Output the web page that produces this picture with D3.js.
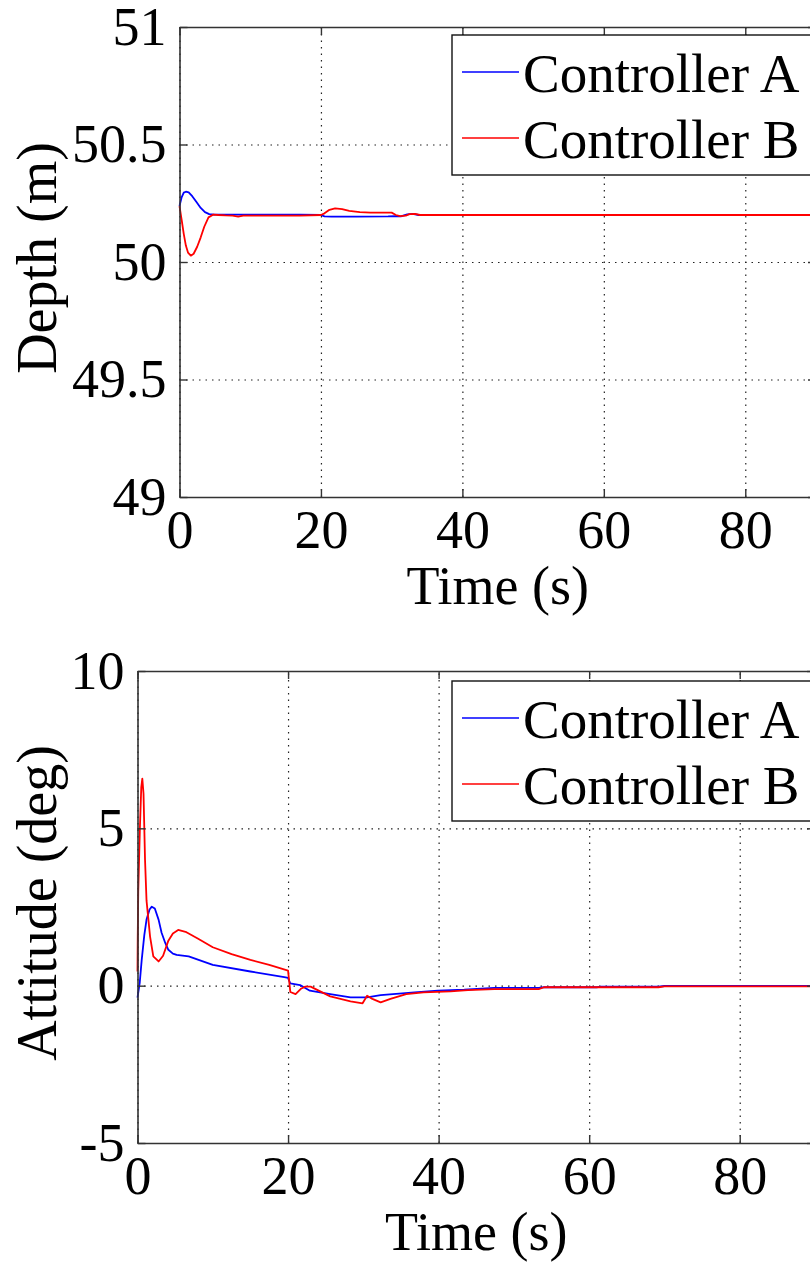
<!DOCTYPE html>
<html>
<head>
<meta charset="utf-8">
<script src="https://cdn.jsdelivr.net/npm/d3@7/dist/d3.min.js"></script>
<style>
  body { margin: 0; overflow: hidden; background: #fff; }
  svg { display: block; font-family: "Liberation Serif", "Times New Roman", serif; }
</style>
</head>
<body>
<svg id="chart" width="810" height="1262"></svg>
<script>
// Depth response (top panel)
const depthTimeA = [0, 0.3, 0.6, 0.9, 1.3, 1.8, 2.4, 3.0, 3.6, 4.2, 5, 6, 8, 10, 17, 20, 20.5, 21.5, 25, 29.5, 30.5, 31.3, 32.2, 33, 33.8, 34.5, 90];
const depthA     = [50.238, 50.275, 50.295, 50.299, 50.296, 50.28, 50.255, 50.23, 50.212, 50.204, 50.202, 50.202, 50.202, 50.202, 50.202, 50.2, 50.194, 50.193, 50.193, 50.194, 50.195, 50.194, 50.203, 50.205, 50.2, 50.2, 50.2];

const depthTimeB = [0, 0.3, 0.6, 0.9, 1.2, 1.6, 2.0, 2.5, 3.0, 3.5, 4.1, 4.8, 5.5, 6.5, 7.5, 8.3, 9.0, 10, 17, 20, 20.5, 21.2, 22, 23, 24, 25.5, 27, 30, 30.6, 31.2, 32, 32.5, 33.3, 34, 90];
const depthB     = [50.238, 50.18, 50.12, 50.07, 50.04, 50.027, 50.035, 50.065, 50.105, 50.15, 50.19, 50.202, 50.2, 50.198, 50.197, 50.193, 50.197, 50.197, 50.197, 50.2, 50.207, 50.222, 50.228, 50.225, 50.218, 50.212, 50.21, 50.21, 50.2, 50.195, 50.197, 50.204, 50.205, 50.2, 50.2];

// Attitude response (bottom panel)
const attTimeA = [0, 0.3, 0.56, 0.9, 1.2, 1.6, 1.9, 2.3, 2.8, 3.2, 3.7, 4.1, 4.7, 5.2, 6.8, 10, 15, 19.5, 20, 20.3, 21.6, 22.9, 25.6, 28.3, 30.5, 32.3, 36.8, 39.9, 43.4, 47.4, 53.3, 54, 61, 61.6, 69.2, 70, 90];
const attA     = [-0.38, 0.1, 0.82, 1.6, 2.1, 2.42, 2.51, 2.45, 2.1, 1.68, 1.35, 1.14, 1.02, 0.98, 0.93, 0.66, 0.45, 0.27, 0.25, 0.07, 0.02, -0.16, -0.27, -0.37, -0.37, -0.3, -0.21, -0.16, -0.13, -0.07, -0.07, -0.05, -0.05, -0.03, -0.03, -0.01, -0.01];

const attTimeB = [0, 0.03, 0.1, 0.33, 0.5, 0.64, 0.8, 1.0, 1.2, 1.67, 2.1, 2.8, 3.4, 4.1, 4.7, 5.4, 6.5, 8, 10, 12.5, 15, 17.5, 20, 20.3, 21, 21.7, 22.3, 23, 25.6, 28.3, 29.9, 30.5, 31.2, 32.3, 33.6, 35.7, 38, 41.6, 43.9, 47.4, 53.3, 54, 69.2, 70, 90];
const attB     = [0.45, 1.5, 3.0, 5.1, 6.3, 6.58, 6.1, 4.0, 2.7, 1.56, 0.93, 0.77, 0.95, 1.43, 1.66, 1.77, 1.7, 1.5, 1.22, 1.0, 0.82, 0.66, 0.48, -0.2, -0.27, -0.1, -0.03, -0.03, -0.34, -0.5, -0.56, -0.32, -0.42, -0.53, -0.42, -0.27, -0.21, -0.18, -0.14, -0.11, -0.11, -0.05, -0.05, -0.02, -0.02];

// Axes ticks and labels
const timeTicks = [0, 20, 40, 60, 80];
const depthTicks = [49, 49.5, 50, 50.5, 51];
const attTicks = [-5, 0, 5, 10];
const legendNames = ["Controller A", "Controller B"];
const colours = ["#0000ff", "#ff0000"];

const FONT = 54;
const svg = d3.select("#chart");

function drawPanel(cfg) {
  const x = d3.scaleLinear().domain([0, 90]).range([cfg.left, cfg.right]);
  const y = d3.scaleLinear().domain(cfg.yDomain).range([cfg.bottom, cfg.top]);
  const w = cfg.right - cfg.left, h = cfg.bottom - cfg.top;
  const g = svg.append("g");

  // dotted grid
  g.append("g")
    .attr("transform", `translate(0,${cfg.bottom})`)
    .call(d3.axisBottom(x).tickValues(timeTicks).tickSize(-h).tickFormat(""))
    .call(a => a.select(".domain").remove());
  g.append("g")
    .attr("transform", `translate(${cfg.left},0)`)
    .call(d3.axisLeft(y).tickValues(cfg.yTicks).tickSize(-w).tickFormat(""))
    .call(a => a.select(".domain").remove());
  g.selectAll(".tick line")
    .attr("stroke", "#222")
    .attr("stroke-width", 1.2)
    .attr("stroke-dasharray", "1.5,5");

  // data lines
  const line = d3.line().x(d => x(d[0])).y(d => y(d[1]));
  cfg.series.forEach((s, i) => {
    g.append("path")
      .datum(d3.zip(s.t, s.v))
      .attr("fill", "none")
      .attr("stroke", colours[i])
      .attr("stroke-width", 1.8)
      .attr("stroke-linejoin", "round")
      .attr("d", line);
  });

  // box axes with inward ticks
  const axes = [
    [d3.axisBottom(x).tickValues(timeTicks), `translate(0,${cfg.bottom})`, true],
    [d3.axisTop(x).tickValues(timeTicks), `translate(0,${cfg.top})`, false],
    [d3.axisLeft(y).tickValues(cfg.yTicks), `translate(${cfg.left},0)`, true],
    [d3.axisRight(y).tickValues(cfg.yTicks), `translate(${cfg.right},0)`, false]
  ];
  axes.forEach(([ax, tr, labelled]) => {
    const a = g.append("g").attr("transform", tr)
      .call(ax.tickSize(-8).tickSizeOuter(0).tickPadding(labelled ? 13 : 0).tickFormat(labelled ? d => String(d) : ""));
    a.select(".domain").attr("stroke", "#333").attr("stroke-width", 1.6);
    a.selectAll(".tick line").attr("stroke", "#333").attr("stroke-width", 1.4);
    a.selectAll(".tick text")
      .attr("font-size", FONT)
      .attr("font-family", "Liberation Serif")
      .attr("fill", "#000");
  });

  // axis titles
  g.append("text")
    .attr("x", (cfg.left + cfg.right) / 2)
    .attr("y", cfg.bottom + 107)
    .attr("text-anchor", "middle")
    .attr("font-size", FONT)
    .text("Time (s)");
  g.append("text")
    .attr("transform", `translate(56,${(cfg.top + cfg.bottom) / 2 - 4}) rotate(-90)`)
    .attr("text-anchor", "middle")
    .attr("font-size", 56)
    .text(cfg.yLabel);

  // legend
  const lx = 452, ly = cfg.top + cfg.legendOffset;
  g.append("rect")
    .attr("x", lx).attr("y", ly)
    .attr("width", cfg.right - 4 - lx).attr("height", 140)
    .attr("fill", "#fff").attr("stroke", "#111").attr("stroke-width", 1.4);
  legendNames.forEach((name, i) => {
    const ry = ly + 37 + i * 66;
    g.append("line")
      .attr("x1", lx + 10).attr("x2", lx + 67)
      .attr("y1", ry).attr("y2", ry)
      .attr("stroke", colours[i]).attr("stroke-width", 1.6);
    g.append("text")
      .attr("x", lx + 71).attr("y", ry)
      .attr("dy", "0.36em")
      .attr("font-size", 55)
      .text(name);
  });
}

drawPanel({
  left: 179.5, right: 816, top: 27, bottom: 497,
  yDomain: [49, 51], yTicks: depthTicks, yLabel: "Depth (m)", legendOffset: 8,
  series: [{ t: depthTimeA, v: depthA }, { t: depthTimeB, v: depthB }]
});

drawPanel({
  left: 137.5, right: 815, top: 671, bottom: 1143,
  yDomain: [-5, 10], yTicks: attTicks, yLabel: "Attitude (deg)", legendOffset: 10,
  series: [{ t: attTimeA, v: attA }, { t: attTimeB, v: attB }]
});
</script>
</body>
</html>
